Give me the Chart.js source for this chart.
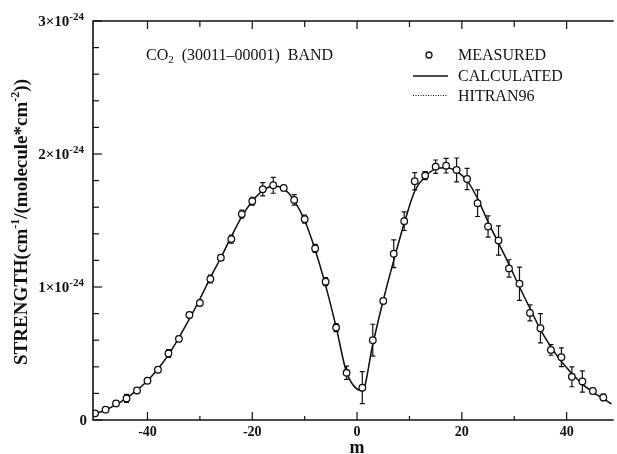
<!DOCTYPE html>
<html>
<head>
<meta charset="utf-8">
<script src="https://cdn.jsdelivr.net/npm/chart.js@4.4.1/dist/chart.umd.min.js"></script>
<style>
    html, body { margin: 0; padding: 0; background: #fff; overflow: hidden; }
    canvas { display: block; }
</style>
</head>
<body>
<canvas id="bandChart" width="617" height="454"></canvas>
<script>
// Measured line strengths, units of 1e-24 cm-1/(molecule*cm-2)
const measM = [-50, -48, -46, -44, -42, -40, -38, -36, -34, -32, -30, -28, -26, -24, -22, -20, -18, -16, -14, -12, -10, -8, -6, -4, -2,
    1, 3, 5, 7, 9, 11, 13, 15, 17, 19, 21, 23, 25, 27, 29, 31, 33, 35, 37, 39, 41, 43, 45, 47];
const measS = [0.05, 0.078, 0.125, 0.162, 0.222, 0.295, 0.378, 0.50, 0.61, 0.79, 0.88, 1.06, 1.22, 1.36, 1.548, 1.645, 1.735, 1.765, 1.745, 1.655, 1.51, 1.29, 1.04, 0.695, 0.355,
    0.243, 0.60, 0.895, 1.25, 1.495, 1.795, 1.838, 1.905, 1.912, 1.88, 1.812, 1.63, 1.455, 1.35, 1.14, 1.025, 0.805, 0.69, 0.527, 0.472, 0.325, 0.29, 0.218, 0.17];
const measErr = [0.02, 0.02, 0.02, 0.03, 0.02, 0.02, 0.02, 0.03, 0.02, 0.02, 0.02, 0.03, 0.02, 0.03, 0.03, 0.03, 0.05, 0.06, 0.02, 0.04, 0.03, 0.03, 0.03, 0.03, 0.05,
    0.12, 0.12, 0.02, 0.105, 0.07, 0.065, 0.03, 0.05, 0.055, 0.09, 0.08, 0.1, 0.08, 0.11, 0.065, 0.125, 0.06, 0.11, 0.04, 0.07, 0.075, 0.08, 0.02, 0.025];

// Calculated curve
const calcM = [-50.4, -50, -48, -46, -44, -42, -40, -38, -36, -34, -32, -30, -28, -26, -24, -22, -20, -18, -16, -14, -12, -10, -8, -6, -4, -2,
    1, 3, 5, 7, 9, 11, 13, 15, 17, 19, 21, 23, 25, 27, 29, 31, 33, 35, 37, 39, 41, 43, 45, 47, 48.6];
const calcS = [0.035, 0.045, 0.075, 0.115, 0.165, 0.225, 0.295, 0.385, 0.49, 0.62, 0.76, 0.91, 1.07, 1.22, 1.38, 1.53, 1.645, 1.725, 1.76, 1.74, 1.65, 1.50, 1.28, 1.01, 0.70, 0.36,
    0.22, 0.57, 0.90, 1.20, 1.48, 1.72, 1.83, 1.888, 1.897, 1.87, 1.80, 1.665, 1.49, 1.33, 1.17, 1.00, 0.84, 0.68, 0.55, 0.44, 0.35, 0.27, 0.21, 0.16, 0.12];

// HITRAN96 (lies on top of the calculated curve)
const hitranM = [-50.4, -50, -48, -46, -44, -42, -40, -38, -36, -34, -32, -30, -28, -26, -24, -22, -20, -18, -16, -14, -12, -10, -8, -6, -4, -2,
    1, 3, 5, 7, 9, 11, 13, 15, 17, 19, 21, 23, 25, 27, 29, 31, 33, 35, 37, 39, 41, 43, 45, 47, 48.6];
const hitranS = [0.035, 0.045, 0.075, 0.115, 0.165, 0.225, 0.295, 0.385, 0.49, 0.62, 0.76, 0.91, 1.07, 1.22, 1.38, 1.53, 1.645, 1.725, 1.76, 1.74, 1.65, 1.50, 1.28, 1.01, 0.70, 0.36,
    0.22, 0.57, 0.90, 1.20, 1.48, 1.72, 1.83, 1.888, 1.897, 1.87, 1.80, 1.665, 1.49, 1.33, 1.17, 1.00, 0.84, 0.68, 0.55, 0.44, 0.35, 0.27, 0.21, 0.16, 0.12];

// Axis ticks
const xTicks = [-40, -30, -20, -10, 0, 10, 20, 30, 40];
const xLabels = ['-40', '', '-20', '', '0', '', '20', '', '40'];
const yMajor = [0, 1, 2, 3];
const yLabels = ['0', '1\u00d710', '2\u00d710', '3\u00d710'];
const yMinor = [0.2, 0.4, 0.6, 0.8, 1.2, 1.4, 1.6, 1.8, 2.2, 2.4, 2.6, 2.8];
const yExp = '-24';

const FONT = "'Liberation Serif', 'Times New Roman', serif";

const initApp = () => {

    // draw a run of text pieces, some raised or lowered
    const drawParts = (ctx, parts, x, y) => {
        let cx = x;
        parts.forEach((p) => {
            ctx.font = `${p.bold ? 'bold ' : ''}${p.size}px ${FONT}`;
            ctx.fillText(p.t, cx, y + (p.dy || 0));
            cx += ctx.measureText(p.t).width;
        });
        return cx;
    };

    const partsWidth = (ctx, parts) => {
        let w = 0;
        parts.forEach((p) => {
            ctx.font = `${p.bold ? 'bold ' : ''}${p.size}px ${FONT}`;
            w += ctx.measureText(p.t).width;
        });
        return w;
    };

    // error bars under the markers
    const errorBars = {
        id: 'errorBars',
        beforeDatasetsDraw(chart) {
            const { ctx, scales: { x, y } } = chart;
            ctx.save();
            ctx.strokeStyle = '#111';
            ctx.lineWidth = 1.2;
            measM.forEach((m, i) => {
                const px = x.getPixelForValue(m);
                const top = y.getPixelForValue(measS[i] + measErr[i]);
                const bot = y.getPixelForValue(measS[i] - measErr[i]);
                ctx.beginPath();
                ctx.moveTo(px, top);
                ctx.lineTo(px, bot);
                ctx.moveTo(px - 2.5, top);
                ctx.lineTo(px + 2.5, top);
                ctx.moveTo(px - 2.5, bot);
                ctx.lineTo(px + 2.5, bot);
                ctx.stroke();
            });
            ctx.restore();
        }
    };

    // frame, ticks, labels, titles and legend
    const frame = {
        id: 'frame',
        afterDraw(chart) {
            const { ctx, chartArea: a, scales: { x, y } } = chart;
            ctx.save();
            ctx.strokeStyle = '#111';
            ctx.fillStyle = '#111';
            ctx.lineWidth = 1.6;

            ctx.beginPath();
            ctx.moveTo(a.right + 2, a.top);
            ctx.lineTo(a.left, a.top);
            ctx.lineTo(a.left, a.bottom);
            ctx.lineTo(a.right + 2, a.bottom);
            ctx.stroke();

            // x ticks, bottom pointing up, top pointing down
            ctx.lineWidth = 1.2;
            xTicks.forEach((t, i) => {
                const px = x.getPixelForValue(t);
                const len = xLabels[i] ? 8 : 4;
                ctx.beginPath();
                ctx.moveTo(px, a.bottom);
                ctx.lineTo(px, a.bottom - len);
                ctx.moveTo(px, a.top);
                ctx.lineTo(px, a.top + (xLabels[i] ? 8 : 6));
                ctx.stroke();
            });

            // y ticks
            yMajor.forEach((t) => {
                const py = y.getPixelForValue(t);
                ctx.beginPath();
                ctx.moveTo(a.left, py);
                ctx.lineTo(a.left + 9, py);
                ctx.stroke();
            });
            yMinor.forEach((t) => {
                const py = y.getPixelForValue(t);
                ctx.beginPath();
                ctx.moveTo(a.left, py);
                ctx.lineTo(a.left + 6, py);
                ctx.stroke();
            });

            // x tick labels
            ctx.textAlign = 'center';
            ctx.textBaseline = 'middle';
            ctx.font = `bold 14px ${FONT}`;
            xTicks.forEach((t, i) => {
                if (!xLabels[i]) return;
                ctx.fillText(xLabels[i], x.getPixelForValue(t), a.bottom + 12);
            });
            ctx.font = `bold 18px ${FONT}`;
            ctx.fillText('m', x.getPixelForValue(0), 448);

            // y tick labels with exponent
            ctx.textAlign = 'left';
            ctx.textBaseline = 'alphabetic';
            yMajor.forEach((t, i) => {
                const py = y.getPixelForValue(t);
                if (t === 0) {
                    ctx.font = `bold 15px ${FONT}`;
                    ctx.fillText('0', 87 - ctx.measureText('0').width, py + 5);
                    return;
                }
                const parts = [
                    { t: yLabels[i], size: 15, bold: true },
                    { t: yExp, size: 11, bold: true, dy: -6 }
                ];
                drawParts(ctx, parts, 84 - partsWidth(ctx, parts), py + 5);
            });

            // y axis title
            const titleParts = [
                { t: 'STRENGTH(cm', size: 19, bold: true },
                { t: '-1', size: 12, bold: true, dy: -8 },
                { t: '/(molecule*cm', size: 19, bold: true },
                { t: '-2', size: 12, bold: true, dy: -8 },
                { t: '))', size: 19, bold: true }
            ];
            ctx.save();
            ctx.translate(27, 222);
            ctx.rotate(-Math.PI / 2);
            drawParts(ctx, titleParts, -partsWidth(ctx, titleParts) / 2, 0);
            ctx.restore();

            // band label
            drawParts(ctx, [
                { t: 'CO', size: 16 },
                { t: '2', size: 11, dy: 3 },
                { t: '  (30011\u201300001)  BAND', size: 16 }
            ], 146, 60);

            // legend
            ctx.lineWidth = 1.3;
            ctx.beginPath();
            ctx.arc(429, 55, 3, 0, Math.PI * 2);
            ctx.stroke();

            ctx.lineWidth = 1.5;
            ctx.beginPath();
            ctx.moveTo(413, 76);
            ctx.lineTo(448, 76);
            ctx.stroke();

            ctx.lineWidth = 1;
            ctx.setLineDash([1, 1.5]);
            ctx.beginPath();
            ctx.moveTo(413, 95.5);
            ctx.lineTo(448, 95.5);
            ctx.stroke();
            ctx.setLineDash([]);

            ctx.font = `16px ${FONT}`;
            ctx.fillText('MEASURED', 458, 60);
            ctx.fillText('CALCULATED', 458, 81);
            ctx.fillText('HITRAN96', 458, 101);

            ctx.restore();
        }
    };

    const toPoints = (ms, ss) => ms.map((m, i) => ({ x: m, y: ss[i] }));

    const bandChart = document.getElementById('bandChart');

    if (bandChart) {
        new Chart(bandChart, {
            type: 'scatter',
            data: {
                datasets: [
                    {
                        label: 'MEASURED',
                        data: toPoints(measM, measS),
                        showLine: false,
                        pointRadius: 3.3,
                        pointBackgroundColor: '#fff',
                        pointBorderColor: '#111',
                        pointBorderWidth: 1.3,
                        order: 0
                    },
                    {
                        label: 'CALCULATED',
                        data: toPoints(calcM, calcS),
                        showLine: true,
                        borderColor: '#111',
                        borderWidth: 1.5,
                        pointRadius: 0,
                        cubicInterpolationMode: 'monotone',
                        order: 1
                    },
                    {
                        label: 'HITRAN96',
                        data: toPoints(hitranM, hitranS),
                        showLine: true,
                        borderColor: '#333',
                        borderWidth: 1,
                        borderDash: [1, 1.5],
                        pointRadius: 0,
                        cubicInterpolationMode: 'monotone',
                        order: 2
                    }
                ]
            },
            options: {
                responsive: false,
                animation: false,
                devicePixelRatio: 1,
                layout: {
                    padding: { left: 93, top: 21, right: 0, bottom: 34 }
                },
                plugins: {
                    legend: { display: false },
                    tooltip: { enabled: false }
                },
                scales: {
                    x: { type: 'linear', min: -50.4, max: 48.6, display: false },
                    y: { type: 'linear', min: 0, max: 3, display: false }
                }
            },
            plugins: [errorBars, frame]
        });
    }
};

document.addEventListener('DOMContentLoaded', initApp);
</script>
</body>
</html>
